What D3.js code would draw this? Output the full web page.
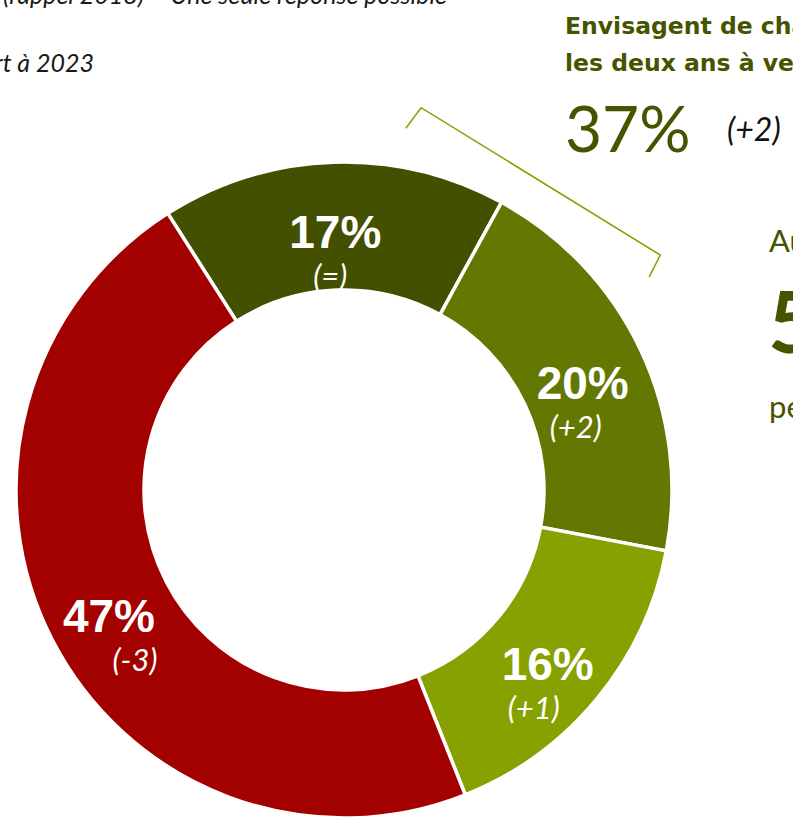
<!DOCTYPE html>
<html lang="fr">
<head>
<meta charset="utf-8">
<title>Envisagent de changer</title>
<script src="https://cdn.jsdelivr.net/npm/d3@7"></script>
<style>
  body { margin: 0; background: #fff; }
  .pct { font-family: "Liberation Sans", Arial, sans-serif; font-weight: bold; font-size: 46px; fill: #fff; }
  .chg { font-family: Lato, "Open Sans", sans-serif; font-style: italic; font-size: 31px; fill: #fff; }
  .note { font-family: Lato, "Open Sans", sans-serif; font-style: italic; font-size: 25px; fill: #1a1a1a; }
  .olive { fill: #465400; font-family: Lato, "Open Sans", sans-serif; }
  .head { fill: #465400; font-family: "DejaVu Sans", sans-serif; font-weight: bold; font-size: 23.5px; }
</style>
</head>
<body>
<div id="chart"></div>
<script>
// data
var categories = ["vert fonce", "vert", "vert clair", "rouge"];
var values = [17, 20, 16, 47];
var changes = ["(=)", "(+2)", "(+1)", "(-3)"];
var colors = ["#435000", "#637800", "#87A100", "#A30000"];
var totalGreen = 37, totalGreenChange = "(+2)";

var width = 793, height = 819;
var cx = 344, cy = 490, outerR = 328, innerR = 200;
var startDeg = -32.5;
var changeNudge = [-5, -7, -14, 26]; // hand placed offsets of the (±n) labels

var svg = d3.select("#chart").append("svg")
  .attr("width", width)
  .attr("height", height);

// notes at top left (cut off by the frame)
svg.append("text").attr("class", "note")
  .attr("x", 447).attr("y", 4).attr("text-anchor", "end")
  .text("(rappel 2018)  – Une seule réponse possible");
svg.append("text").attr("class", "note")
  .attr("x", 94).attr("y", 72).attr("text-anchor", "end")
  .text("Entre parenthèses : évolution par rapport à 2023");

var pie = d3.pie().sort(null)
  .startAngle(startDeg * Math.PI / 180)
  .endAngle((startDeg + 360) * Math.PI / 180);
var arc = d3.arc().innerRadius(innerR).outerRadius(outerR);
var labelArc = d3.arc().innerRadius(264).outerRadius(264);

var g = svg.append("g").attr("transform", "translate(" + cx + "," + cy + ")");
var arcs = pie(values);

g.selectAll("path").data(arcs).enter().append("path")
  .attr("d", arc)
  .attr("fill", function(d, i) { return colors[i]; })
  .attr("stroke", "#fff")
  .attr("stroke-width", 3.5);

arcs.forEach(function(d, i) {
  var c = labelArc.centroid(d);
  g.append("text").attr("class", "pct")
    .attr("x", c[0]).attr("y", c[1] + 22)
    .attr("text-anchor", "middle")
    .text(values[i] + "%");
  g.append("text").attr("class", "chg")
    .attr("x", c[0] + changeNudge[i]).attr("y", c[1] + 61)
    .attr("text-anchor", "middle")
    .text(changes[i]);
});

// bracket over the two green parts
function polar(deg, r) {
  var a = deg * Math.PI / 180;
  return [r * Math.sin(a), -r * Math.cos(a)];
}
var bracket = [polar(9.7, 367), polar(11.4, 390), polar(53.4, 394), polar(55.1, 372)];
g.append("path")
  .attr("d", d3.line()(bracket))
  .attr("fill", "none")
  .attr("stroke", "#8AA000")
  .attr("stroke-width", 1.5);

// right side texts
svg.append("text").attr("class", "head")
  .attr("x", 565).attr("y", 34)
  .text("Envisagent de changer de véhicule dans");
svg.append("text").attr("class", "head")
  .attr("x", 565).attr("y", 71)
  .text("les deux ans à venir");
svg.append("text").attr("class", "olive")
  .attr("x", 565).attr("y", 152)
  .style("font-size", "64px")
  .text(totalGreen + "%");
svg.append("text").attr("class", "note")
  .attr("x", 727).attr("y", 141)
  .style("font-size", "32px").style("fill", "#111")
  .text(totalGreenChange);

svg.append("text").attr("class", "olive")
  .attr("x", 769).attr("y", 252)
  .style("font-size", "31px")
  .text("Au total");
svg.append("text").attr("class", "olive")
  .attr("x", 768).attr("y", 353)
  .style("font-size", "86px").style("font-weight", "bold")
  .text("5");
svg.append("text").attr("class", "olive")
  .attr("x", 769).attr("y", 418)
  .style("font-size", "31px")
  .text("pensent");
</script>
</body>
</html>
